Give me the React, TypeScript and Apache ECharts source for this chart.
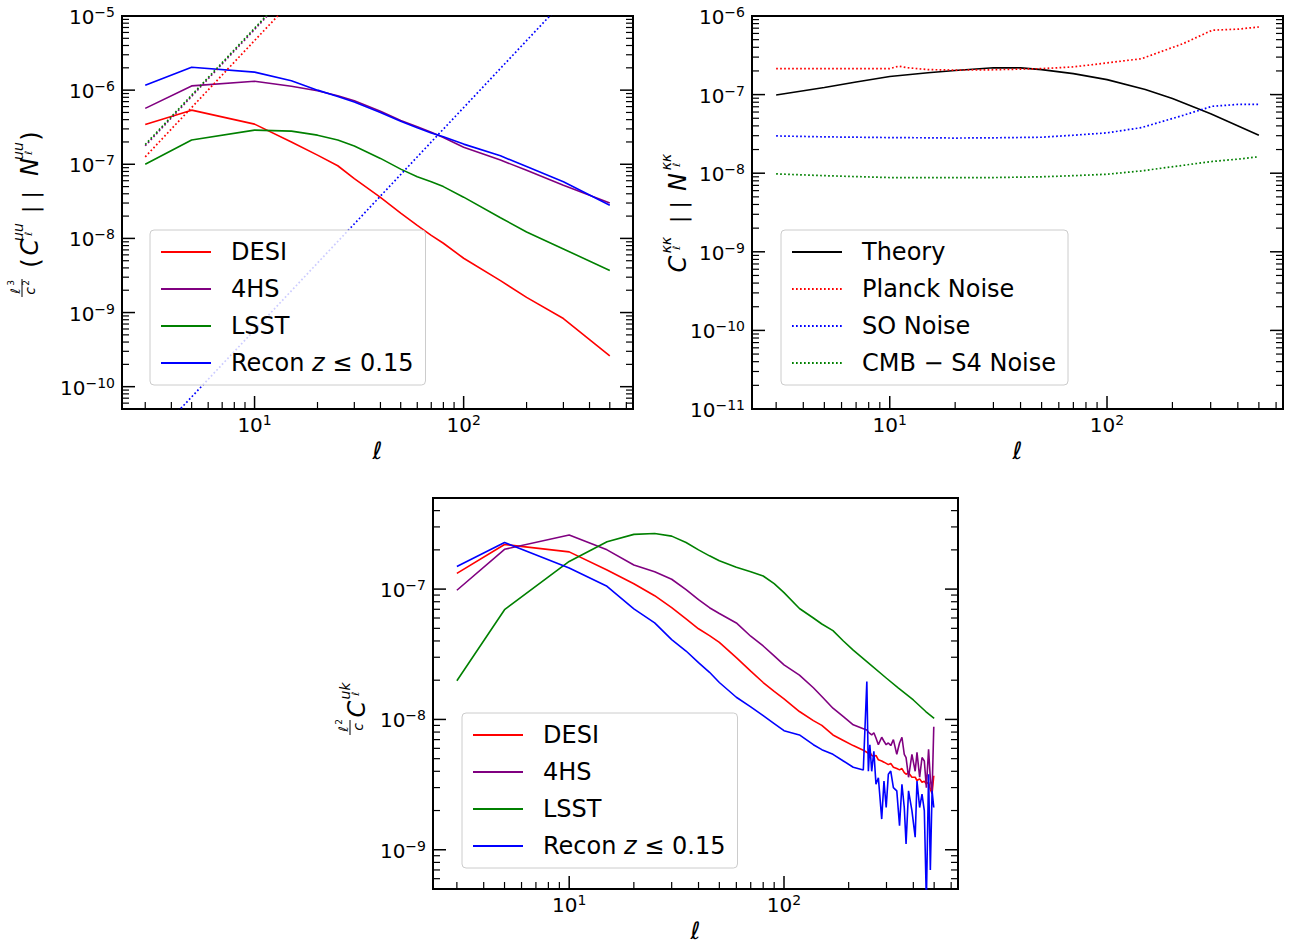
import React, { useEffect, useRef } from 'react';
import * as echarts from 'echarts';

const FONT = 'DejaVu Sans';
const XMIN = 2.3227;
const XMAX = 645.65;

const RED = '#ff0000';
const PURPLE = '#800080';
const GREEN = '#008000';
const BLUE = '#0000ff';
const RECON = 'Recon z ≤ 0.15';

// ---------- Panel 1 : l^3/c^2 (C_l^uu || N_l^uu)
const ell1 = [3, 5, 10, 15, 20, 25, 30, 40, 50, 60, 70, 80, 100, 150, 200, 300, 500];
const desi1 = [3.44e-7, 5.37e-7, 3.48e-7, 2.0e-7, 1.33e-7, 9.55e-8, 6.4e-8, 3.57e-8, 2.2e-8, 1.5e-8, 1.1e-8, 8.6e-9, 5.4e-9, 2.7e-9, 1.6e-9, 8.3e-10, 2.6e-10];
const hs1 = [5.67e-7, 1.14e-6, 1.32e-6, 1.13e-6, 9.8e-7, 8.4e-7, 7.2e-7, 5.2e-7, 3.9e-7, 3.2e-7, 2.7e-7, 2.3e-7, 1.7e-7, 1.14e-7, 8.3e-8, 5.2e-8, 3.0e-8];
const lsst1 = [1.0e-7, 2.12e-7, 2.89e-7, 2.8e-7, 2.47e-7, 2.12e-7, 1.76e-7, 1.2e-7, 8.6e-8, 6.8e-8, 5.8e-8, 5.0e-8, 3.6e-8, 1.9e-8, 1.22e-8, 7.2e-9, 3.7e-9];
const recon1 = [1.16e-6, 2.04e-6, 1.75e-6, 1.34e-6, 1.0e-6, 8.2e-7, 6.9e-7, 5.0e-7, 3.8e-7, 3.1e-7, 2.65e-7, 2.35e-7, 1.87e-7, 1.3e-7, 9.3e-8, 5.8e-8, 2.8e-8];
const noiseEll1 = [3, 500];
const desiN1 = [1.26e-7, 5.8e-1];
const hsN1 = [1.78e-7, 8.2e-1];
const lsstN1 = [1.85e-7, 8.5e-1];
const reconN1 = [1.57e-11, 7.28e-5];

// ---------- Panel 2 : C_l^kk || N_l^kk
const ellTh = [3, 5, 7, 10, 15, 20, 30, 40, 50, 70, 100, 150, 200, 300, 500];
const theory = [9.9e-8, 1.23e-7, 1.45e-7, 1.7e-7, 1.9e-7, 2.03e-7, 2.2e-7, 2.19e-7, 2.08e-7, 1.85e-7, 1.55e-7, 1.16e-7, 8.9e-8, 5.7e-8, 3.04e-8];
const ellN2 = [3, 5, 10, 11, 12, 15, 20, 30, 50, 70, 100, 144, 224, 305, 400, 500];
const planck = [2.14e-7, 2.14e-7, 2.14e-7, 2.3e-7, 2.2e-7, 2.08e-7, 2.05e-7, 2.07e-7, 2.14e-7, 2.25e-7, 2.53e-7, 2.86e-7, 4.45e-7, 6.6e-7, 6.8e-7, 7.25e-7];
const soN = [2.98e-8, 2.9e-8, 2.84e-8, 2.84e-8, 2.83e-8, 2.82e-8, 2.8e-8, 2.82e-8, 2.87e-8, 3.04e-8, 3.26e-8, 3.8e-8, 5.45e-8, 7.1e-8, 7.5e-8, 7.5e-8];
const s4N = [9.8e-9, 9.3e-9, 8.8e-9, 8.8e-9, 8.8e-9, 8.8e-9, 8.8e-9, 8.8e-9, 9.0e-9, 9.3e-9, 9.7e-9, 1.07e-8, 1.26e-8, 1.41e-8, 1.51e-8, 1.62e-8];

// ---------- Panel 3 : l^2/c C_l^uk
const ell3 = [3, 5, 10, 15, 20, 25, 30, 35, 40, 45, 50, 60, 70, 80, 90, 100, 118, 137, 150, 169, 189, 210, 234,
  243, 247, 251, 256, 262, 268, 275, 285, 292, 299, 306, 314, 323, 335, 345, 354, 363, 370, 380, 394, 408, 416, 428, 439, 450, 460, 471, 480, 489, 498];
const desi3 = [1.32e-7, 2.2e-7, 1.93e-7, 1.4e-7, 1.1e-7, 8.9e-8, 7.2e-8, 5.9e-8, 4.96e-8, 4.4e-8, 3.9e-8, 2.98e-8, 2.35e-8, 1.92e-8, 1.64e-8, 1.44e-8, 1.15e-8, 9.8e-9, 9.0e-9, 7.6e-9, 6.9e-9, 6.3e-9, 5.8e-9,
  5.6e-9, 5.5e-9, 5.6e-9, 5.3e-9, 5.2e-9, 5.3e-9, 4.9e-9, 4.8e-9, 4.7e-9, 4.6e-9, 4.5e-9, 4.6e-9, 4.3e-9, 4.2e-9, 4.1e-9, 4.2e-9, 3.9e-9, 3.8e-9, 3.9e-9, 3.6e-9, 3.6e-9, 3.4e-9, 3.5e-9, 3.3e-9, 3.35e-9, 3.2e-9, 3.3e-9, 2.9e-9, 2.7e-9, 3.7e-9];
const hs3 = [9.8e-8, 2.02e-7, 2.6e-7, 2.0e-7, 1.53e-7, 1.36e-7, 1.19e-7, 9.9e-8, 8.3e-8, 7.2e-8, 6.5e-8, 5.5e-8, 4.35e-8, 3.66e-8, 3.07e-8, 2.62e-8, 2.19e-8, 1.75e-8, 1.5e-8, 1.22e-8, 1.05e-8, 9.1e-9, 8.5e-9,
  8.3e-9, 8.0e-9, 7.8e-9, 7.6e-9, 7.9e-9, 7.2e-9, 6.4e-9, 7.3e-9, 6.8e-9, 6.4e-9, 6.6e-9, 6.3e-9, 7.0e-9, 5.4e-9, 6.6e-9, 7.3e-9, 5.4e-9, 5.1e-9, 3.6e-9, 5.4e-9, 4.0e-9, 5.6e-9, 3.6e-9, 5.1e-9, 4.8e-9, 3.0e-9, 5.9e-9, 3.5e-9, 2.7e-9, 8.8e-9];
const recon3 = [1.49e-7, 2.28e-7, 1.45e-7, 1.05e-7, 7.05e-8, 5.5e-8, 4.1e-8, 3.35e-8, 2.73e-8, 2.3e-8, 1.92e-8, 1.48e-8, 1.25e-8, 1.07e-8, 9.3e-9, 8.2e-9, 7.6e-9, 6.4e-9, 5.86e-9, 5.4e-9, 4.8e-9, 4.3e-9, 4.1e-9,
  1.95e-8, 4.0e-9, 6.4e-9, 4.0e-9, 5.7e-9, 3.18e-9, 3.57e-9, 1.72e-9, 3.37e-9, 2.11e-9, 3.8e-9, 4.02e-9, 3.0e-9, 2.83e-9, 1.53e-9, 3.18e-9, 2.11e-9, 1.11e-9, 2.83e-9, 2.0e-9, 1.25e-9, 3.37e-9, 2.11e-9, 2.67e-9, 2.0e-9, 4.0e-10, 3.8e-9, 7.0e-10, 2.83e-9, 2.11e-9];
const ellG3 = [3, 5, 10, 15, 20, 25, 30, 35, 40, 45, 50, 60, 70, 80, 90, 100, 118, 137, 150, 169, 189, 210, 243, 300, 340, 400, 457, 500];
const lsst3 = [1.98e-8, 6.95e-8, 1.63e-7, 2.31e-7, 2.63e-7, 2.67e-7, 2.55e-7, 2.28e-7, 2.0e-7, 1.8e-7, 1.65e-7, 1.47e-7, 1.36e-7, 1.26e-7, 1.1e-7, 9.4e-8, 7.1e-8, 6.0e-8, 5.4e-8, 4.8e-8, 4.0e-8, 3.4e-8, 2.78e-8, 2.07e-8, 1.75e-8, 1.41e-8, 1.15e-8, 1.02e-8];

// ---------- axis ranges
const Y1 = [5e-11, 1e-5];
const Y2 = [1e-11, 1e-6];
const Y3 = [5e-10, 5e-7];

const GRIDS = [
  { left: 122, top: 16, width: 511, height: 393 },
  { left: 752, top: 16, width: 531, height: 393 },
  { left: 433, top: 498, width: 525, height: 393 },
];

const pairs = (xs: number[], ys: number[]) => xs.map((x, i) => [x, ys[i]]);

const powLabel = (v: number) => {
  const e = Math.log10(v);
  const r = Math.round(e);
  if (Math.abs(e - r) > 1e-6) return '';
  return `{b|10}{s|${r < 0 ? '\u2212' + -r : r}}`;
};
const labelRich = {
  b: { fontFamily: FONT, fontSize: 20, color: '#000', lineHeight: 22, verticalAlign: 'bottom' },
  s: { fontFamily: FONT, fontSize: 14, color: '#000', lineHeight: 6, verticalAlign: 'top' },
};

function tickData(ymin: number, ymax: number) {
  const out: number[][] = [];
  for (let d = Math.floor(Math.log10(XMIN)); d <= Math.ceil(Math.log10(XMAX)); d++) {
    for (let m = 1; m < 10; m++) {
      const v = m * Math.pow(10, d);
      if (v >= XMIN && v <= XMAX) out.push([v, ymin, m === 1 ? 1 : 0]);
    }
  }
  for (let d = Math.floor(Math.log10(ymin)) - 1; d <= Math.ceil(Math.log10(ymax)); d++) {
    for (let m = 1; m < 10; m++) {
      const v = m * Math.pow(10, d);
      if (v >= ymin * 0.9999 && v <= ymax * 1.0001) out.push([XMIN, v, m === 1 ? 3 : 2]);
    }
  }
  return out;
}

function tickSeries(gi: number, ymin: number) {
  return {
    type: 'custom',
    name: 'ticks' + gi,
    xAxisIndex: gi,
    yAxisIndex: gi,
    silent: true,
    z: 5,
    encode: { x: 0, y: 1 },
    data: tickData(ymin, [Y1, Y2, Y3][gi][1]),
    renderItem: (params: any, api: any) => {
      const k = api.value(2);
      const major = k === 1 || k === 3;
      const len = major ? 13 : 7;
      const lw = major ? 1.5 : 1.2;
      const st = { stroke: '#000', lineWidth: lw };
      if (k < 2) {
        const p = api.coord([api.value(0), ymin]);
        return { type: 'line', shape: { x1: p[0], y1: p[1], x2: p[0], y2: p[1] - len }, style: st };
      }
      const v = api.value(1);
      const p1 = api.coord([XMIN, v]);
      const p2 = api.coord([XMAX, v]);
      return {
        type: 'group',
        children: [
          { type: 'line', shape: { x1: p1[0], y1: p1[1], x2: p1[0] + len, y2: p1[1] }, style: st },
          { type: 'line', shape: { x1: p2[0], y1: p2[1], x2: p2[0] - len, y2: p2[1] }, style: st },
        ],
      };
    },
  };
}

function lineSeries(gi: number, name: string, xs: number[], ys: number[], color: string, dotted = false) {
  return {
    type: 'line',
    name,
    xAxisIndex: gi,
    yAxisIndex: gi,
    data: pairs(xs, ys),
    symbol: 'none',
    showSymbol: false,
    clip: true,
    z: 2,
    lineStyle: { color, width: dotted ? 1.7 : 1.6, type: dotted ? [1.7, 2.3] : 'solid' },
    itemStyle: { color },
  };
}

const xAxisCfg = (gi: number) => ({
  type: 'log',
  logBase: 10,
  gridIndex: gi,
  min: XMIN,
  max: XMAX,
  axisLine: { show: false },
  axisTick: { show: false },
  minorTick: { show: false },
  splitLine: { show: false },
  axisLabel: { formatter: powLabel, rich: labelRich, margin: 4 },
  name: '\u2113',
  nameLocation: 'middle',
  nameGap: 30,
  nameTextStyle: { fontFamily: FONT, fontSize: 24, fontStyle: 'italic', color: '#000' },
});
const yAxisCfg = (gi: number, r: number[]) => ({
  type: 'log',
  logBase: 10,
  gridIndex: gi,
  min: r[0],
  max: r[1],
  axisLine: { show: false },
  axisTick: { show: false },
  minorTick: { show: false },
  splitLine: { show: false },
  axisLabel: { formatter: powLabel, rich: labelRich, margin: 7 },
});

const legendCfg = (left: number, top: number, names: string[]) => ({
  show: true,
  orient: 'vertical',
  left,
  top,
  data: names,
  selectedMode: false,
  itemWidth: 50,
  itemHeight: 14,
  itemGap: 13,
  padding: [10, 12, 10, 10],
  backgroundColor: 'rgba(255,255,255,0.8)',
  borderColor: '#cccccc',
  borderWidth: 1,
  borderRadius: 4,
  itemStyle: { opacity: 0, borderWidth: 0 },
  textStyle: {
    fontFamily: FONT,
    fontSize: 24,
    color: '#000',
    lineHeight: 24,
    padding: [0, 0, 0, 15],
    rich: { i: { fontFamily: FONT, fontSize: 24, fontStyle: 'italic', color: '#000', lineHeight: 24 } },
  },
  formatter: (n: string) => (n === RECON ? 'Recon {i|z} \u2264 0.15' : n),
});

// ----- rotated y-axis titles built from text pieces
const T = (x: number, y: number, text: string, size: number, italic = false) => ({
  type: 'text',
  x,
  y,
  style: {
    text,
    fontSize: size,
    fontFamily: FONT,
    fontStyle: italic ? 'italic' : 'normal',
    fill: '#000',
    align: 'center',
    textAlign: 'center',
    verticalAlign: 'middle',
    textVerticalAlign: 'middle',
  },
});
const BAR = (x1: number, x2: number, y: number) => ({
  type: 'line',
  shape: { x1, y1: y, x2, y2: y },
  style: { stroke: '#000', lineWidth: 1 },
});

const yTitle1 = {
  type: 'group',
  x: 28,
  y: 212,
  rotation: Math.PI / 2,
  children: [
    T(-79, -13, '\u2113', 13, true), T(-71, -17, '3', 9),
    BAR(-85, -67, -6),
    T(-79, 2, 'c', 14, true), T(-71, -2, '2', 9),
    T(-51, 3, '(', 24),
    T(-35, 2, 'C', 24, true),
    T(-20, -10, 'uu', 14, true), T(-22, 0, '\u2113', 10, true),
    T(10, 2, '| |', 22),
    T(45, 2, 'N', 24, true),
    T(61, -10, 'uu', 14, true), T(59, 0, '\u2113', 10, true),
    T(76, 3, ')', 24),
  ],
};
const yTitle2 = {
  type: 'group',
  x: 676,
  y: 212,
  rotation: Math.PI / 2,
  children: [
    T(-52, 2, 'C', 24, true),
    T(-33, -10, '\u03BA\u03BA', 14, true), T(-36, 0, '\u2113', 10, true),
    T(0, 2, '| |', 22),
    T(30, 2, 'N', 24, true),
    T(50, -10, '\u03BA\u03BA', 14, true), T(47, 0, '\u2113', 10, true),
  ],
};
const yTitle3 = {
  type: 'group',
  x: 355,
  y: 706,
  rotation: Math.PI / 2,
  children: [
    T(-23, -12, '\u2113', 13, true), T(-16, -16, '2', 9),
    BAR(-29, -14, -5),
    T(-21, 3, 'c', 14, true),
    T(-3, 2, 'C', 24, true),
    T(15, -10, 'uk', 14, true), T(12, 0, '\u2113', 10, true),
  ],
};

export default function App() {
  const ref = useRef<HTMLDivElement>(null);
  useEffect(() => {
    if (!ref.current) return;
    const chart = echarts.init(ref.current, null, { renderer: 'svg' });
    const option: any = {
      animation: false,
      backgroundColor: '#ffffff',
      textStyle: { fontFamily: FONT },
      grid: GRIDS.map((g) => ({ ...g, show: true, borderColor: '#000', borderWidth: 2, backgroundColor: 'transparent', containLabel: false })),
      xAxis: [xAxisCfg(0), xAxisCfg(1), xAxisCfg(2)],
      yAxis: [yAxisCfg(0, Y1), yAxisCfg(1, Y2), yAxisCfg(2, Y3)],
      legend: [
        legendCfg(150, 230, ['DESI', '4HS', 'LSST', RECON]),
        legendCfg(781, 230, ['Theory', 'Planck Noise', 'SO Noise', 'CMB \u2212 S4 Noise']),
        legendCfg(462, 713, ['DESI', '4HS', 'LSST', RECON]),
      ],
      series: [
        // panel 1 signal
        lineSeries(0, 'DESI', ell1, desi1, RED),
        lineSeries(0, '4HS', ell1, hs1, PURPLE),
        lineSeries(0, 'LSST', ell1, lsst1, GREEN),
        lineSeries(0, RECON, ell1, recon1, BLUE),
        // panel 1 noise
        lineSeries(0, 'DESI noise', noiseEll1, desiN1, RED, true),
        lineSeries(0, '4HS noise', noiseEll1, hsN1, PURPLE, true),
        lineSeries(0, 'LSST noise', noiseEll1, lsstN1, GREEN, true),
        lineSeries(0, 'Recon noise', noiseEll1, reconN1, BLUE, true),
        // panel 2
        lineSeries(1, 'Theory', ellTh, theory, '#000000'),
        lineSeries(1, 'Planck Noise', ellN2, planck, RED, true),
        lineSeries(1, 'SO Noise', ellN2, soN, BLUE, true),
        lineSeries(1, 'CMB \u2212 S4 Noise', ellN2, s4N, GREEN, true),
        // panel 3
        lineSeries(2, 'DESI', ell3, desi3, RED),
        lineSeries(2, '4HS', ell3, hs3, PURPLE),
        lineSeries(2, 'LSST', ellG3, lsst3, GREEN),
        lineSeries(2, RECON, ell3, recon3, BLUE),
        // ticks
        tickSeries(0, Y1[0]),
        tickSeries(1, Y2[0]),
        tickSeries(2, Y3[0]),
      ],
      graphic: [yTitle1, yTitle2, yTitle3],
    };
    chart.setOption(option);
    return () => chart.dispose();
  }, []);
  return (
    <div
      ref={ref}
      style={{ position: 'absolute', left: 0, top: 0, width: 1294, height: 944, background: '#fff' }}
    />
  );
}
